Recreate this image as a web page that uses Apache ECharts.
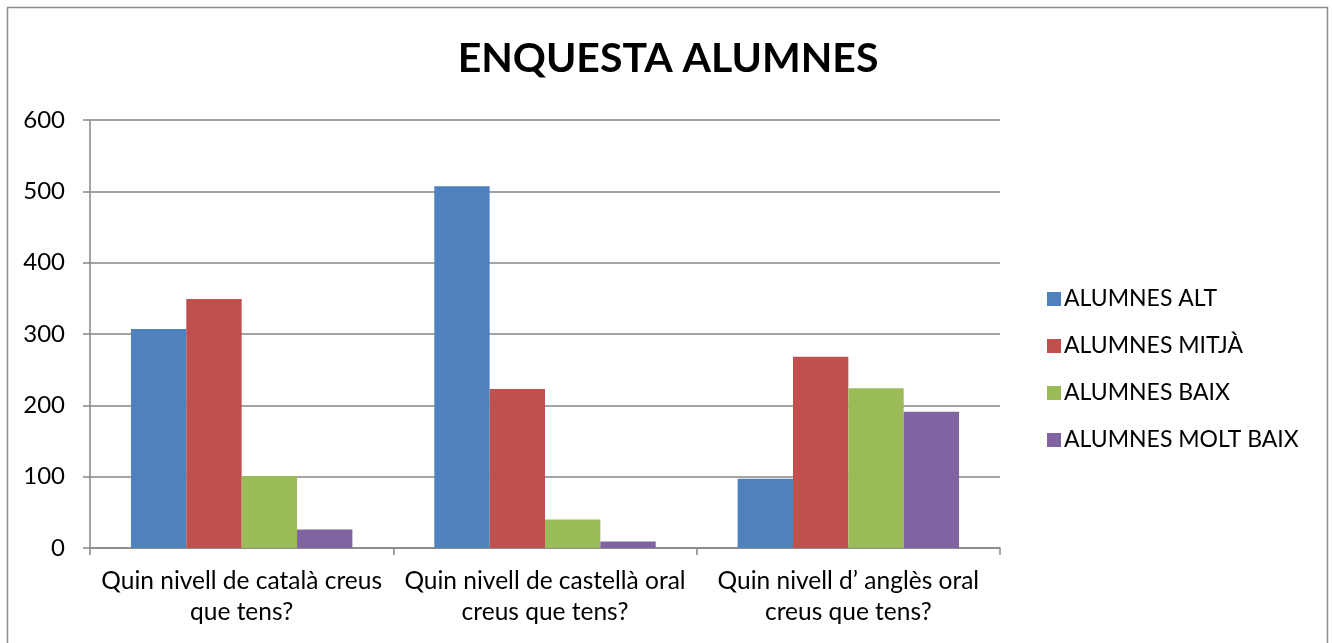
<!DOCTYPE html>
<html>
<head>
<meta charset="utf-8">
<script src="https://cdn.jsdelivr.net/npm/echarts@6/dist/echarts.min.js"></script>
<style>
html,body{margin:0;padding:0;background:#fff;}
#chart{width:1332px;height:643px;}
</style>
</head>
<body>
<div id="chart"></div>
<script>
const categories = ['Quin nivell de català creus\nque tens?', 'Quin nivell de castellà oral\ncreus que tens?', 'Quin nivell d\u2019 anglès oral\ncreus que tens?'];
const seriesNames = ['ALUMNES ALT', 'ALUMNES MITJÀ', 'ALUMNES BAIX', 'ALUMNES MOLT BAIX'];
const altValues = [307, 507, 97];
const mitjaValues = [349, 223, 268];
const baixValues = [101, 40, 224];
const moltBaixValues = [26, 9, 191];
const yTicks = [0, 100, 200, 300, 400, 500, 600];
const colors = ['#4f81bd', '#c0504d', '#9bbb59', '#8064a2'];

const font = 'Lato, "Open Sans", sans-serif';
const chart = echarts.init(document.getElementById('chart'), null, {renderer: 'canvas'});
const allValues = [altValues, mitjaValues, baixValues, moltBaixValues];
chart.setOption({
  animation: false,
  color: colors,
  title: {
    text: 'ENQUESTA ALUMNES',
    left: 663, top: 33, textAlign: 'center',
    textStyle: {fontFamily: font, fontWeight: 'bold', fontSize: 41, color: '#000'}
  },
  legend: {
    orient: 'vertical', left: 1042, top: 282,
    itemWidth: 14, itemHeight: 14, itemGap: 23,
    icon: 'rect',
    textStyle: {fontFamily: font, fontSize: 23, lineHeight: 24, color: '#000', padding: [0,0,0,-2]},
    data: seriesNames
  },
  graphic: [{
    type: 'rect', shape: {x: 7.5, y: 7.5, width: 1320, height: 650},
    style: {fill: 'none', stroke: '#8c8c8c', lineWidth: 1.5}, silent: true
  }],
  grid: {left: 90, right: 332, top: 120, bottom: 95, containLabel: false},
  xAxis: {
    type: 'category', data: categories,
    axisLine: {lineStyle: {color: '#868686', width: 1.5}},
    axisTick: {show: true, length: 7, lineStyle: {color: '#868686', width: 1.5}},
    axisLabel: {interval: 0, fontFamily: font, fontSize: 24.5, color: '#000', margin: 18, lineHeight: 31}
  },
  yAxis: {
    type: 'value', min: yTicks[0], max: yTicks[yTicks.length - 1], interval: 100,
    axisLine: {show: true, lineStyle: {color: '#868686', width: 1.5}},
    axisTick: {show: true, length: 7, lineStyle: {color: '#868686', width: 1.5}},
    splitLine: {show: true, lineStyle: {color: '#868686', width: 1.5}},
    axisLabel: {fontFamily: font, fontSize: 24, color: '#000', margin: 25}
  },
  series: seriesNames.map((n, i) => ({
    name: n, type: 'bar', data: allValues[i],
    barGap: '0%', barCategoryGap: '27%',
    itemStyle: {color: colors[i]}
  }))
});
</script>
</body>
</html>
